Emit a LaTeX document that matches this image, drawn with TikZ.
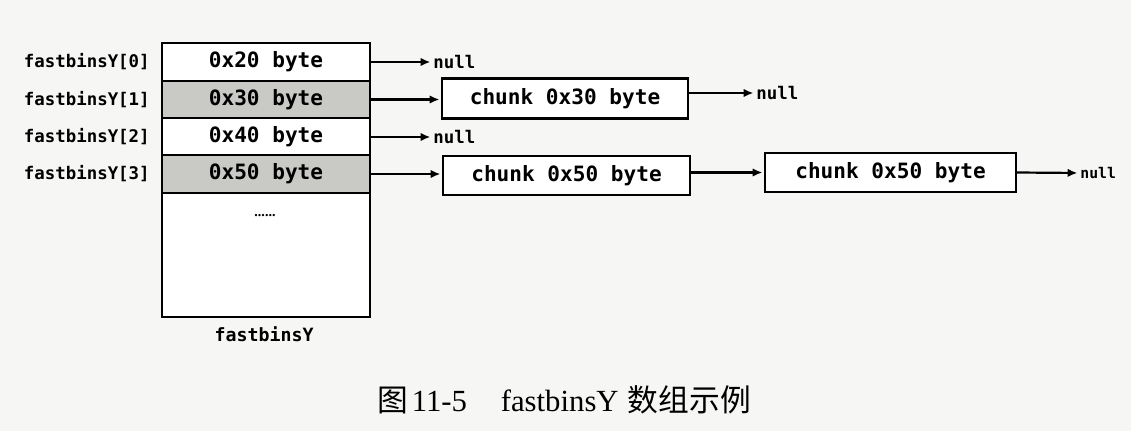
\documentclass[tikz,border=0pt]{standalone}
\usepackage{fontspec}
\setmainfont{Liberation Serif}
\setmonofont{DejaVu Sans Mono}
\newfontfamily\cjk{Noto Sans CJK SC}
\usetikzlibrary{arrows.meta}
\definecolor{rowgray}{RGB}{201,201,197}
\definecolor{paper}{RGB}{246,246,244}
\tikzset{
  cell/.style={draw=black, line width=1.2pt, fill=white, minimum width=4.16cm, inner sep=0pt, outer sep=0pt,
    font=\ttfamily\bfseries\fontsize{12}{14}\selectfont},
  shaded/.style={fill=rowgray},
  chunkbox/.style={draw=black, line width=1.2pt, fill=white, inner sep=0pt, outer sep=0pt, minimum height=0.78cm,
    font=\ttfamily\bfseries\fontsize{12}{14}\selectfont},
  idx/.style={anchor=east, inner sep=0pt, font=\ttfamily\bfseries\fontsize{9.9}{12}\selectfont},
  nulltxt/.style={anchor=west, inner sep=0pt, font=\ttfamily\bfseries\fontsize{9.9}{12}\selectfont},
  arr/.style={line width=1.25pt, -{Latex[length=5.5pt,width=4.8pt]}, shorten >=1.5pt},
}
\begin{document}
\begin{tikzpicture}[x=0.02cm, y=-0.02cm]
\fill[paper] (0,0) rectangle (1131,431);
\useasboundingbox (0,0) rectangle (1131,431);

% array cells
\node[cell, minimum height=2.48cm] (rest) at (266,255) {};
\node[cell, shaded, minimum height=0.76cm] (r3) at (266,174) {0x50 byte};
\node[cell, minimum height=0.74cm] (r2) at (266,136.5) {0x40 byte};
\node[cell, shaded, minimum height=0.74cm] (r1) at (266,99.5) {0x30 byte};
\node[cell, minimum height=0.76cm] (r0) at (266,62) {0x20 byte};
\node[inner sep=0pt, font=\bfseries\fontsize{8}{8}\selectfont] (dots) at (265,216) {......};
\node[inner sep=0pt, font=\ttfamily\bfseries\fontsize{10.4}{12}\selectfont] (lab) at (264,334) {fastbinsY};

% index labels
\node[idx] (i0) at (150,62) {fastbinsY[0]};
\node[idx] (i1) at (150,99.5) {fastbinsY[1]};
\node[idx] (i2) at (150,136.5) {fastbinsY[2]};
\node[idx] (i3) at (150,174) {fastbinsY[3]};

% chunks
\node[chunkbox, minimum width=4.92cm, minimum height=0.8cm] (c1) at (565,98.5) {chunk 0x30 byte};
\node[chunkbox, minimum width=4.94cm] (c2) at (566.5,175.5) {chunk 0x50 byte};
\node[chunkbox, minimum width=5.02cm] (c3) at (890.5,172.5) {chunk 0x50 byte};

% nulls
\node[nulltxt] (n0) at (433,62) {null};
\node[nulltxt] (n2) at (433,137) {null};
\node[nulltxt] (n1) at (756,93) {null};
\node[nulltxt, font=\ttfamily\bfseries\fontsize{8.4}{10}\selectfont] (n3) at (1080,173) {null};

% connectors
\draw[arr] (r0.east) -- (n0.west);
\draw[arr] (r1.east) -- (r1.east -| c1.west);
\draw[arr] (r2.east |- n2.west) -- (n2.west);
\draw[arr] (r3.east) -- (r3.east -| c2.west);
\draw[arr] (c1.east |- n1.west) -- (n1.west);
\draw[arr] (c2.east |- c3.west) -- (c3.west);
\draw[arr] (c3.east) -- (n3.west);

% caption
\node[anchor=west, inner sep=0pt, font=\fontsize{17.5}{20}\selectfont] (cap) at (377,400)
  {{\cjk 图}\hspace{0.12em}11-5\hspace{1.1em}fastbinsY\hspace{0.3em}{\cjk 数组示例}};
\end{tikzpicture}
\end{document}
